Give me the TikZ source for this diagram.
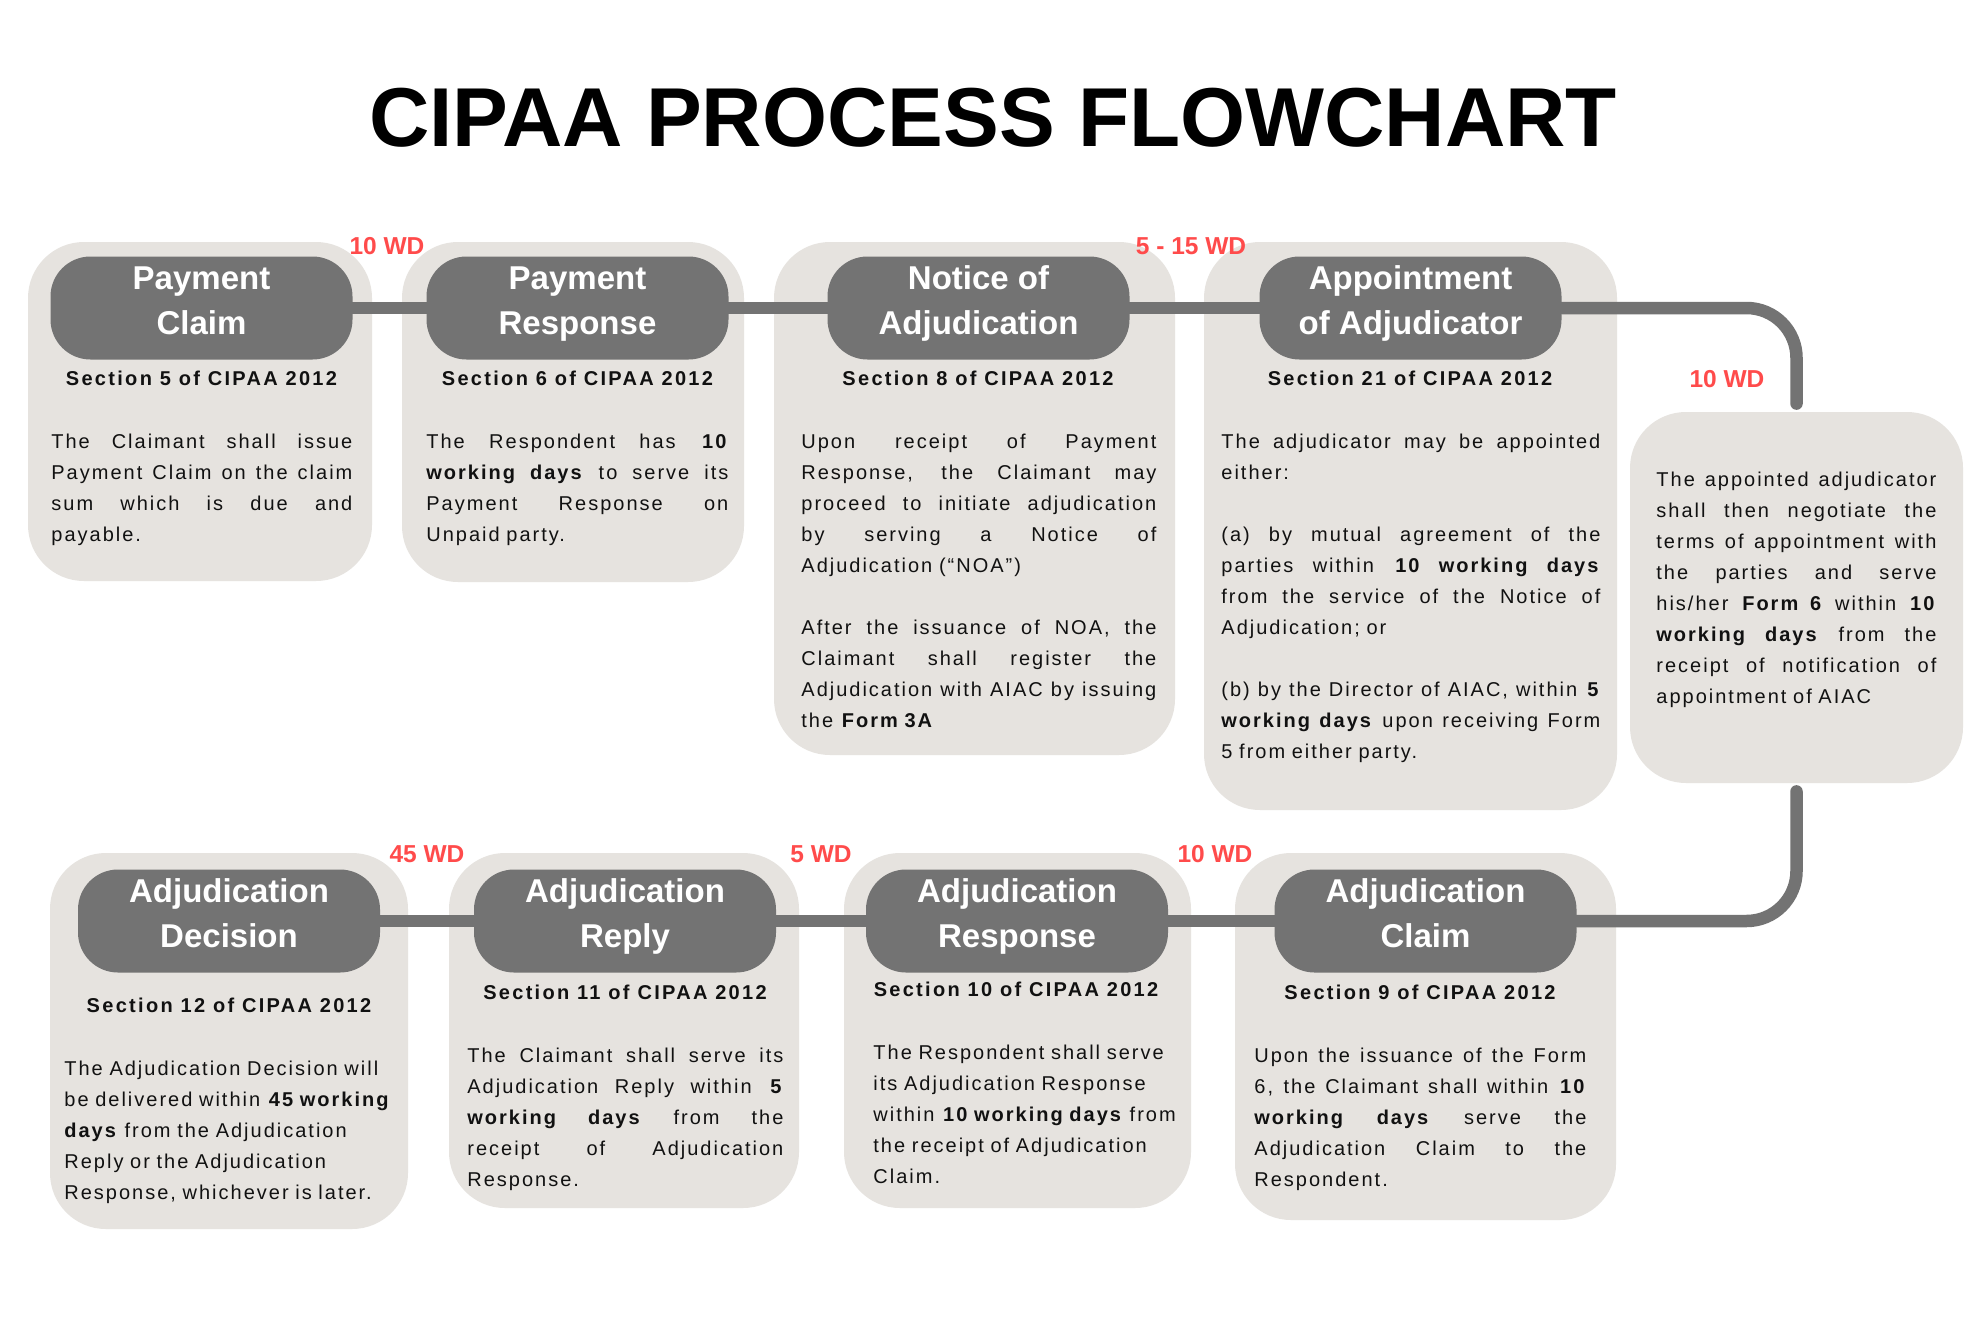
\documentclass[tikz,border=0pt]{standalone}
\usepackage{fontspec}
\setmainfont{Liberation Sans}
\newfontfamily\bodyfont{Liberation Sans}[LetterSpace=10]
\newfontfamily\headfont{Liberation Sans}[LetterSpace=11.5]
\usetikzlibrary{calc}
\definecolor{boxgray}{HTML}{E6E3DF}
\definecolor{pillgray}{HTML}{737373}
\definecolor{wdred}{HTML}{FF4B4B}
\definecolor{ink}{HTML}{111111}
\pgfdeclarelayer{bg}
\pgfdeclarelayer{mid}
\pgfsetlayers{bg,mid,main}
\newcommand\jl[1]{\makebox[\hsize][s]{\spaceskip=\fontdimen2\font plus 1fill\relax\strut#1}\\}
\newcommand\fl[1]{\strut#1\\}
\newcommand\el[1]{\strut#1}
\newcommand\bl{\strut\\}
\tikzset{
  card/.style={fill=boxgray, draw=none, rounded corners=28pt, inner sep=0pt},
  pill/.style={fill=pillgray, draw=none, rounded corners=20pt, minimum width=151pt, minimum height=51.5pt, inner sep=0pt},
  conn/.style={draw=pillgray, line width=6.25pt, line cap=round},
  ptitle/.style={text=white, font=\fontsize{16.5}{22.5}\selectfont\bfseries, align=center, inner sep=0pt},
  shead/.style={anchor=base, font=\headfont\fontsize{10}{15.5}\selectfont\bfseries, text=ink, inner sep=0pt},
  bodytext/.style={anchor=north west, font=\bodyfont\fontsize{10}{15.5}\selectfont, text=ink, inner sep=0pt, align=left, execute at begin node={\setlength{\parindent}{0pt}}},
  wdlabel/.style={anchor=base, text=wdred, font=\fontsize{12.25}{14}\selectfont\bfseries, inner sep=0pt},
}
\begin{document}
\begin{tikzpicture}[x=0.5pt,y=-0.5pt]
\useasboundingbox (0,0) rectangle (1984,1322);

% title
\node[anchor=base, inner sep=0pt, font=\fontsize{41.8}{50}\selectfont\bfseries] (title) at (993,146) {CIPAA PROCESS FLOWCHART};

% cards
\begin{pgfonlayer}{bg}
\fill[white] (0,0) rectangle (1984,1322);
\node[card, minimum width=172pt, minimum height=169.5pt] (c1) at (200,411.5) {};
\node[card, minimum width=171pt, minimum height=170pt] (c2) at (573,412) {};
\node[card, minimum width=200.5pt, minimum height=256.5pt] (c3) at (974.5,498.5) {};
\node[card, minimum width=206.5pt, minimum height=284pt] (c4) at (1410.5,526) {};
\node[card, minimum width=166.5pt, minimum height=185.5pt] (c5) at (1796.5,597.5) {};
\node[card, minimum width=179pt, minimum height=188pt] (c6) at (229,1041) {};
\node[card, minimum width=175pt, minimum height=177.5pt] (c7) at (624,1030.5) {};
\node[card, minimum width=173.5pt, minimum height=177.5pt] (c8) at (1017.5,1030.5) {};
\node[card, minimum width=190.5pt, minimum height=183.5pt] (c9) at (1425.5,1036.5) {};
\end{pgfonlayer}

% pills
\node[pill] (p1) at (201.5,308) {};
\node[pill] (p2) at (577.5,308) {};
\node[pill] (p3) at (978.5,308) {};
\node[pill] (p4) at (1410.5,308) {};
\node[pill] (p6) at (229,921) {};
\node[pill] (p7) at (625,921) {};
\node[pill] (p8) at (1017,921) {};
\node[pill] (p9) at (1425.5,921) {};

% connectors
\begin{pgfonlayer}{mid}
\draw[conn] (p1.east) -- (p2.west);
\draw[conn] (p2.east) -- (p3.west);
\draw[conn] (p3.east) -- (p4.west);
\draw[conn, rounded corners=25pt] (p4.east) -| ($(c5.north)+(0,-8)$);
\draw[conn, rounded corners=25pt] ($(c5.south)+(0,8)$) |- (p9.east);
\draw[conn] (p9.west) -- (p8.east);
\draw[conn] (p8.west) -- (p7.east);
\draw[conn] (p7.west) -- (p6.east);
\end{pgfonlayer}

% pill titles
\node[ptitle] (t1) at (201.5,302.5) {\strut Payment\\\strut Claim};
\node[ptitle] (t2) at (577.5,302.5) {\strut Payment\\\strut Response};
\node[ptitle] (t3) at (978.5,302.5) {\strut Notice of\\\strut Adjudication};
\node[ptitle] (t4) at (1410.5,302.5) {\strut Appointment\\\strut of Adjudicator};
\node[ptitle] (t6) at (229,915.5) {\strut Adjudication\\\strut Decision};
\node[ptitle] (t7) at (625,915.5) {\strut Adjudication\\\strut Reply};
\node[ptitle] (t8) at (1017,915.5) {\strut Adjudication\\\strut Response};
\node[ptitle] (t9) at (1425.5,915.5) {\strut Adjudication\\\strut Claim};

% working-day labels
\node[wdlabel] (w1) at (387,254) {10 WD};
\node[wdlabel] (w2) at (1191,254) {5 - 15 WD};
\node[wdlabel] (w3) at (1727,387) {10 WD};
\node[wdlabel] (w4) at (427,862) {45 WD};
\node[wdlabel] (w5) at (821,862) {5 WD};
\node[wdlabel] (w6) at (1215,862) {10 WD};

% section headings
\node[shead] (h1) at (201.5,385) {Section 5 of CIPAA 2012};
\node[shead] (h2) at (577.5,385) {Section 6 of CIPAA 2012};
\node[shead] (h3) at (978,385) {Section 8 of CIPAA 2012};
\node[shead] (h4) at (1410,385) {Section 21 of CIPAA 2012};
\node[shead] (h6) at (229,1012) {Section 12 of CIPAA 2012};
\node[shead] (h7) at (625,999) {Section 11 of CIPAA 2012};
\node[shead] (h8) at (1016,996) {Section 10 of CIPAA 2012};
\node[shead] (h9) at (1420,999) {Section 9 of CIPAA 2012};

% body texts
\node[bodytext, text width=150.5pt] (b1) at (51,426.3) {%
\jl{The Claimant shall issue}%
\jl{Payment Claim on the claim}%
\jl{sum which is due and}%
\el{payable.}};

\node[bodytext, text width=151pt] (b2) at (426,426.3) {%
\jl{The Respondent has \textbf{10}}%
\jl{\textbf{working days} to serve its}%
\jl{Payment Response on}%
\el{Unpaid party.}};

\node[bodytext, text width=177.5pt] (b3) at (801,426.3) {%
\jl{Upon receipt of Payment}%
\jl{Response, the Claimant may}%
\jl{proceed to initiate adjudication}%
\jl{by serving a Notice of}%
\fl{Adjudication (“NOA”)}%
\bl
\jl{After the issuance of NOA, the}%
\jl{Claimant shall register the}%
\jl{Adjudication with AIAC by issuing}%
\el{the \textbf{Form 3A}}};

\node[bodytext, text width=189.5pt] (b4) at (1221,426.3) {%
\jl{The adjudicator may be appointed}%
\fl{either:}%
\bl
\jl{(a) by mutual agreement of the}%
\jl{parties within \textbf{10 working days}}%
\jl{from the service of the Notice of}%
\fl{Adjudication; or}%
\bl
\jl{(b) by the Director of AIAC, within \textbf{5}}%
\jl{\textbf{working days} upon receiving Form}%
\el{5 from either party.}};

\node[bodytext, text width=140pt] (b5) at (1656,464.3) {%
\jl{The appointed adjudicator}%
\jl{shall then negotiate the}%
\jl{terms of appointment with}%
\jl{the parties and serve}%
\jl{his/her \textbf{Form 6} within \textbf{10}}%
\jl{\textbf{working days} from the}%
\jl{receipt of notification of}%
\el{appointment of AIAC}};

\node[bodytext, text width=172pt] (b6) at (64,1053.3) {%
\fl{The Adjudication Decision will}%
\fl{be delivered within \textbf{45 working}}%
\fl{\textbf{days} from the Adjudication}%
\fl{Reply or the Adjudication}%
\el{Response, whichever is later.}};

\node[bodytext, text width=158pt] (b7) at (467,1040.3) {%
\jl{The Claimant shall serve its}%
\jl{Adjudication Reply within \textbf{5}}%
\jl{\textbf{working days} from the}%
\jl{receipt of Adjudication}%
\el{Response.}};

\node[bodytext, text width=160pt] (b8) at (873,1037.3) {%
\fl{The Respondent shall serve}%
\fl{its Adjudication Response}%
\fl{within \textbf{10 working days} from}%
\fl{the receipt of Adjudication}%
\el{Claim.}};

\node[bodytext, text width=166pt] (b9) at (1254,1040.3) {%
\jl{Upon the issuance of the Form}%
\jl{6, the Claimant shall within \textbf{10}}%
\jl{\textbf{working days} serve the}%
\jl{Adjudication Claim to the}%
\el{Respondent.}};
\end{tikzpicture}
\end{document}
